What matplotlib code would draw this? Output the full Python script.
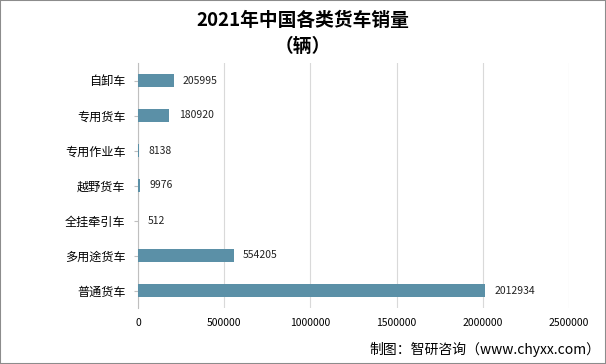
import matplotlib
matplotlib.use("Agg")
import matplotlib.pyplot as plt
from matplotlib.patches import Rectangle

plt.rcParams['font.family'] = ['Noto Sans CJK SC', 'DejaVu Sans']

# dados
categorias = ['自卸车', '专用货车', '专用作业车', '越野货车', '全挂牵引车', '多用途货车', '普通货车']
vendas = [205995, 180920, 8138, 9976, 512, 554205, 2012934]
xticks = [0, 500000, 1000000, 1500000, 2000000, 2500000]

cor_barra = '#5b90a7'

fig = plt.figure(figsize=(6.06, 3.64), dpi=100)
ax = fig.add_axes([138 / 606, 1 - 308 / 364, (569 - 138) / 606, (308 - 63) / 364])

y = list(range(len(categorias)))[::-1]
ax.barh(y, vendas, height=0.35, color=cor_barra, zorder=3)

for yi, v in zip(y, vendas):
    ax.text(v + 55000, yi, str(v), va='center', ha='left', fontsize=7.5, color='#222222')

ax.set_xlim(0, 2500000)
ax.set_ylim(-0.5, len(categorias) - 0.5)
ax.set_yticks(y)
ax.set_yticklabels(categorias, fontsize=8.7)
ax.set_xticks(xticks)
ax.set_xticklabels([str(t) for t in xticks], fontsize=7.5)
ax.tick_params(axis='x', length=0, pad=7)
ax.tick_params(axis='y', length=3, color='#bfbfbf', pad=6)
ax.grid(axis='x', color='#d9d9d9', linewidth=0.8, zorder=0)
for s in ['top', 'right', 'bottom']:
    ax.spines[s].set_visible(False)
ax.spines['left'].set_color('#bfbfbf')

# titulo
fig.text(0.5, 1 - 20 / 364, '2021年中国各类货车销量', ha='center', va='center', fontsize=13.5, fontweight='bold')
fig.text(0.5, 1 - 46 / 364, '（辆）', ha='center', va='center', fontsize=13.5, fontweight='bold')

# fonte
fig.text(600 / 606, 1 - 349 / 364, '制图：智研咨询（www.chyxx.com）', ha='right', va='center', fontsize=10)

# borda
fig.patches.append(Rectangle((0, 0), 1, 1, transform=fig.transFigure, fill=False,
                             edgecolor='#8c8c8c', linewidth=1.5))

fig.savefig('out.png', dpi=100)
